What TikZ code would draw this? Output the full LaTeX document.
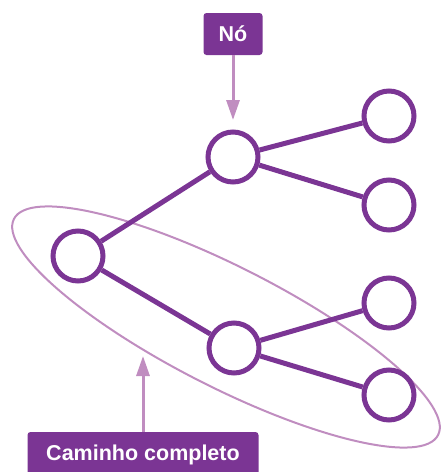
\documentclass[tikz,border=0pt]{standalone}
\usepackage{fontspec}
\setsansfont{Liberation Sans}
\usepackage{tikz}
\usetikzlibrary{arrows.meta}
\usetikzlibrary{positioning}

\definecolor{roxo}{RGB}{123,53,148}
\definecolor{lilas}{RGB}{192,141,192}

\begin{document}
\begin{tikzpicture}[x=1pt, y=-1pt]
\tikzstyle{vertice} = [circle, draw = roxo, line width = 5pt, fill = white, minimum size = 50pt, inner sep = 0pt]
\tikzstyle{aresta} = [draw = roxo, line width = 5pt]
\tikzstyle{rotulo} = [rectangle, rounded corners = 3pt, fill = roxo, text = white, font = \sffamily\bfseries\fontsize{21.5}{24}\selectfont, inner sep = 0pt]
\tikzstyle{seta} = [draw = lilas, line width = 3pt, -{Triangle[length=20pt, width=13pt]}]
\useasboundingbox (0,0) rectangle (444,472);
% caminho
\draw [lilas, line width = 2pt] (226,327) ellipse [x radius = 238pt, y radius = 60pt, rotate = -27];
\node (raiz) [vertice] at (78,256) {};
\node (no) [vertice] at (233,157) {};
\node (meio) [vertice] at (234,348) {};
\node (f1) [vertice] at (389,116) {};
\node (f2) [vertice] at (389,205) {};
\node (f3) [vertice] at (389,303) {};
\node (f4) [vertice] at (389,395) {};
\draw [aresta] (raiz) -- (no);
\draw [aresta] (raiz) -- (meio);
\draw [aresta] (no) -- (f1);
\draw [aresta] (no) -- (f2);
\draw [aresta] (meio) -- (f3);
\draw [aresta] (meio) -- (f4);
% rotulos
\node (rotno) [rotulo, minimum width = 59pt, minimum height = 42pt] at (233,34) {Nó};
\node (rotcam) [rotulo, minimum width = 231pt, minimum height = 46pt] at (143,455) {Caminho completo};
\coordinate (alvono) at (233,120);
\coordinate (alvocam) at (143,356);
\draw [seta] (rotno) -- (alvono);
\draw [seta] (rotcam) -- (alvocam);
\end{tikzpicture}
\end{document}
